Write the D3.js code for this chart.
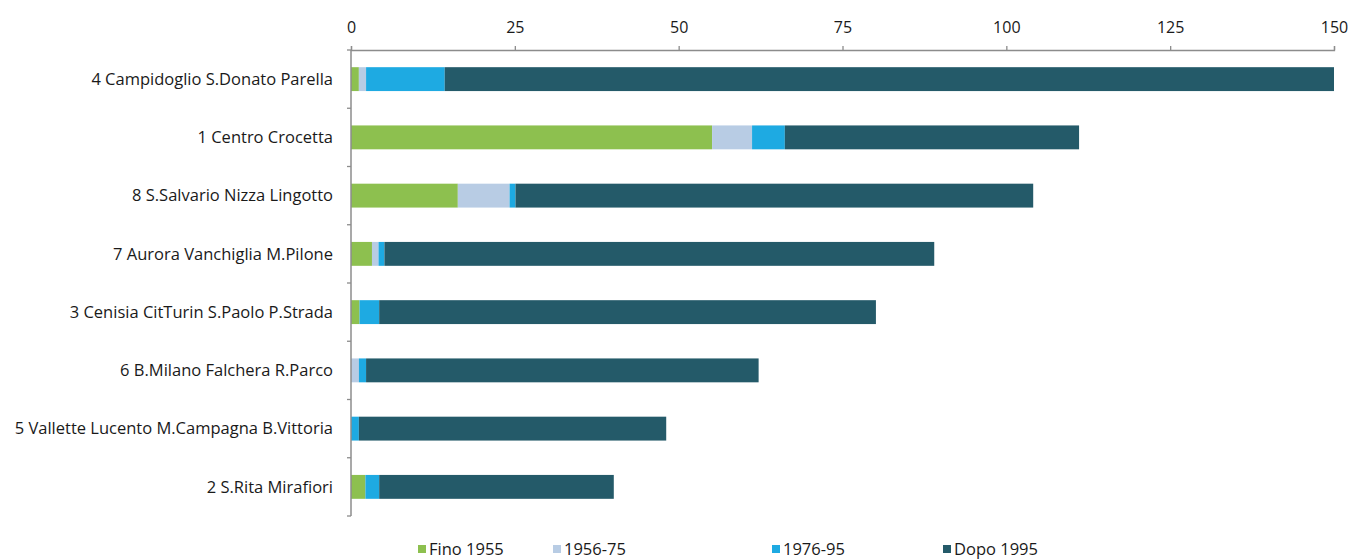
<!DOCTYPE html>
<html>
<head>
<meta charset="utf-8">
<script src="https://cdn.jsdelivr.net/npm/d3@7"></script>
<style>
body{margin:0;background:#fff;}
text{font-family:"Open Sans", "Noto Sans", sans-serif;fill:#1a1a1a;}
</style>
</head>
<body>
<svg></svg>
<script>
var w=1363;
var h=560;

var zone=["4 Campidoglio S.Donato Parella","1 Centro Crocetta","8 S.Salvario Nizza Lingotto",
  "7 Aurora Vanchiglia M.Pilone","3 Cenisia CitTurin S.Paolo P.Strada","6 B.Milano Falchera R.Parco",
  "5 Vallette Lucento M.Campagna B.Vittoria","2 S.Rita Mirafiori"];
var series=["Fino 1955","1956-75","1976-95","Dopo 1995"];
var colors=["#8dc04f","#b8cce4","#1eaae2","#245a69"];
var fino1955=[1.2,55.1,16.3,3.2,1.3,0,0,2.2];
var anni5675=[1.1,6.1,7.9,1.0,0,1.2,0,0];
var anni7695=[12.0,5.0,0.9,0.9,3.0,1.1,1.2,2.1];
var dopo1995=[135.7,44.9,79.0,83.9,75.8,59.9,46.9,35.8];
var ticks=[0,25,50,75,100,125,150];

var rows=zone.map(function(z,i){
  return {zona:z,"Fino 1955":fino1955[i],"1956-75":anni5675[i],"1976-95":anni7695[i],"Dopo 1995":dopo1995[i]};
});

var svg=d3.select("svg").attr("width",w).attr("height",h);

var x=d3.scaleLinear().domain([0,150]).range([351,1334]);
var y=d3.scaleBand().domain(zone).range([50,516]).paddingInner(0.59).paddingOuter(0.295);
var col=d3.scaleOrdinal().domain(series).range(colors);

var stack=d3.stack().keys(series)(rows);

svg.append("g").selectAll("g")
  .data(stack)
  .enter()
  .append("g")
  .attr("fill",function(d){return col(d.key);})
  .selectAll("rect")
  .data(function(d){return d;})
  .enter()
  .append("rect")
  .attr("x",function(d){return x(d[0]);})
  .attr("y",function(d){return y(d.data.zona);})
  .attr("width",function(d){return x(d[1])-x(d[0]);})
  .attr("height",y.bandwidth());

// top axis
var ax=svg.append("g").attr("transform","translate(0,50)")
  .call(d3.axisTop(x).tickValues(ticks).tickSize(4).tickPadding(13));
ax.select(".domain").attr("stroke","#8c8c8c").attr("stroke-width",1.3);
ax.selectAll(".tick line").attr("stroke","#8c8c8c").attr("stroke-width",1.3);
ax.selectAll(".tick text").attr("font-size","16px").attr("font-family","'Open Sans', sans-serif").attr("fill","#1a1a1a");

// left axis
var yl=svg.append("g").attr("transform","translate(351,0)");
yl.append("line").attr("x1",0).attr("x2",0).attr("y1",50).attr("y2",516)
  .attr("stroke","#8c8c8c").attr("stroke-width",1.5);
var step=y.step();
yl.selectAll("line.tk")
  .data(d3.range(zone.length+1))
  .enter()
  .append("line")
  .attr("class","tk")
  .attr("x1",-4).attr("x2",0)
  .attr("y1",function(i){return 50+i*step;})
  .attr("y2",function(i){return 50+i*step;})
  .attr("stroke","#8c8c8c").attr("stroke-width",1.3);

svg.append("g").selectAll("text")
  .data(zone)
  .enter()
  .append("text")
  .attr("x",333)
  .attr("y",function(d){return y(d)+y.bandwidth()/2;})
  .attr("dy","0.35em")
  .attr("text-anchor","end")
  .attr("font-size","16.5px")
  .text(function(d){return d;});

// legend
var legX=[418,553,772,943];
var lg=svg.append("g").selectAll("g")
  .data(series)
  .enter()
  .append("g")
  .attr("transform",function(d,i){return "translate("+legX[i]+",549)";});
lg.append("rect").attr("x",0).attr("y",-4).attr("width",8).attr("height",8)
  .attr("fill",function(d){return col(d);});
lg.append("text").attr("x",11).attr("dy","0.35em").attr("font-size","16.5px")
  .text(function(d){return d;});
</script>
</body>
</html>
